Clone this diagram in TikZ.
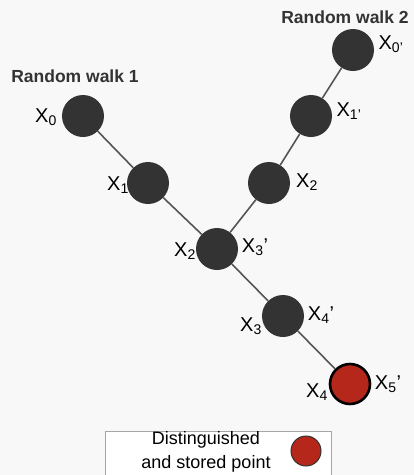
\documentclass[tikz,border=0pt]{standalone}
\usepackage{fontspec}
\setmainfont{Liberation Sans}
\definecolor{bg}{HTML}{F8F8F8}
\definecolor{nodedark}{HTML}{333333}
\definecolor{linegray}{HTML}{555555}
\definecolor{stored}{HTML}{B5271B}
\tikzset{
  walkpt/.style={circle, fill=nodedark, minimum size=42pt, inner sep=0pt},
  storedpt/.style={circle, fill=stored, draw=black, line width=2.6pt, minimum size=40pt, inner sep=0pt},
  lbl/.style={inner sep=0pt, font=\fontsize{20}{24}\selectfont},
  title/.style={inner sep=0pt, font=\fontsize{17.5}{21}\selectfont\bfseries, text=nodedark},
  link/.style={draw=linegray, line width=1.6pt},
}
\begin{document}
\begin{tikzpicture}[x=1pt, y=-1pt]
\useasboundingbox (0,0) rectangle (414,475);
\fill[bg] (0,0) rectangle (414,475);
% walk 1
\node[walkpt] (a0) at (83,116) {};
\node[walkpt] (a1) at (148,183) {};
\node[walkpt] (m) at (217,249) {};
\node[walkpt] (a3) at (283,316) {};
\node[storedpt] (a4) at (350,384) {};
% walk 2
\node[walkpt] (b0) at (353,50) {};
\node[walkpt] (b1) at (311,116) {};
\node[walkpt] (b2) at (269,183) {};
\draw[link] (a0) -- (a1);
\draw[link] (a1) -- (m);
\draw[link] (m) -- (a3);
\draw[link] (a3) -- (a4);
\draw[link] (b0) -- (b1);
\draw[link] (b1) -- (b2);
\draw[link] (b2) -- (m);
% labels
\node[lbl] (la0) at (46,117) {X\textsubscript{0}};
\node[lbl] (la1) at (118,185) {X\textsubscript{1}};
\node[lbl] (la2) at (185,251) {X\textsubscript{2}};
\node[lbl] (la3) at (251,326) {X\textsubscript{3}};
\node[lbl] (la4) at (317,392) {X\textsubscript{4}};
\node[lbl] (lb0) at (391,44) {X\textsubscript{0'}};
\node[lbl] (lb1) at (349,111) {X\textsubscript{1'}};
\node[lbl] (lb2) at (307,182) {X\textsubscript{2}};
\node[lbl] (lb3) at (255,247) {X\textsubscript{3}'};
\node[lbl] (lb4) at (321,315) {X\textsubscript{4}'};
\node[lbl] (lb5) at (388,384) {X\textsubscript{5}'};
% titles
\node[title] (t1) at (75,76) {Random walk 1};
\node[title] (t2) at (345,17) {Random walk 2};
% legend
\node[draw=gray!70, fill=white, line width=0.6pt, minimum width=226pt, minimum height=60pt, anchor=north west, inner sep=0pt] (legend) at (105,431) {};
\node[inner sep=0pt, align=center, font=\fontsize{18}{24}\selectfont] (legtext) at (206,452) {Distinguished\\and stored point};
\node[circle, fill=stored, draw=nodedark, line width=1pt, minimum size=30pt, inner sep=0pt] (legdot) at (306,451) {};
\end{tikzpicture}
\end{document}
